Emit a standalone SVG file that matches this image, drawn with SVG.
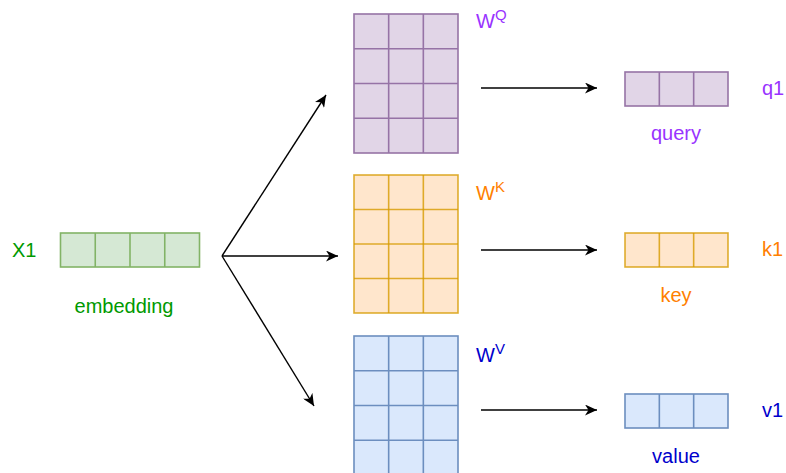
<svg xmlns="http://www.w3.org/2000/svg" width="786" height="473" viewBox="0 0 786 473">
<style>
text{font-family:"Liberation Sans",Arial,sans-serif;font-size:20px}
.p rect,.p line{fill:#e1d5e7;stroke:#9673a6;stroke-width:1.6}
.o rect,.o line{fill:#ffe6cc;stroke:#d79b00;stroke-width:1.6;stroke-opacity:.8}
.b rect,.b line{fill:#dae8fc;stroke:#6c8ebf;stroke-width:1.6}
.g rect,.g line{fill:#d5e8d4;stroke:#82b366;stroke-width:1.6}
.tp{fill:#9933ff}.to{fill:#ff8000}.tb{fill:#0000cc}.tg{fill:#009900}
.sup{font-size:15px}
.c line{stroke:#000;stroke-width:1.4;marker-end:url(#ah)}
</style>
<defs>
<marker id="ah" markerUnits="userSpaceOnUse" markerWidth="13" markerHeight="11" refX="12" refY="5.5" orient="auto">
<path d="M0,0 L12,5.5 L0,11 L3.5,5.5 Z" fill="#000"/>
</marker>
</defs>

<g id="embedding" class="g">
<rect x="60.5" y="233" width="139" height="34"/>
<line x1="95.25" y1="233" x2="95.25" y2="267"/>
<line x1="130" y1="233" x2="130" y2="267"/>
<line x1="164.75" y1="233" x2="164.75" y2="267"/>
<text x="12" y="257" class="tg">X1</text>
<text x="124" y="313" text-anchor="middle" class="tg">embedding</text>
</g>

<g id="WQ" class="p">
<rect x="354" y="14" width="104" height="139"/>
<line x1="388.67" y1="14" x2="388.67" y2="153"/>
<line x1="423.33" y1="14" x2="423.33" y2="153"/>
<line x1="354" y1="48.75" x2="458" y2="48.75"/>
<line x1="354" y1="83.5" x2="458" y2="83.5"/>
<line x1="354" y1="118.25" x2="458" y2="118.25"/>
<text x="476" y="28" class="tp">W<tspan class="sup" dy="-8">Q</tspan></text>
</g>

<g id="WK" class="o">
<rect x="354" y="175" width="104" height="138"/>
<line x1="388.67" y1="175" x2="388.67" y2="313"/>
<line x1="423.33" y1="175" x2="423.33" y2="313"/>
<line x1="354" y1="209.5" x2="458" y2="209.5"/>
<line x1="354" y1="244" x2="458" y2="244"/>
<line x1="354" y1="278.5" x2="458" y2="278.5"/>
<text x="476" y="200" class="to">W<tspan class="sup" dy="-8">K</tspan></text>
</g>

<g id="WV" class="b">
<rect x="354" y="336" width="104" height="139"/>
<line x1="388.67" y1="336" x2="388.67" y2="475"/>
<line x1="423.33" y1="336" x2="423.33" y2="475"/>
<line x1="354" y1="370.75" x2="458" y2="370.75"/>
<line x1="354" y1="405.5" x2="458" y2="405.5"/>
<line x1="354" y1="440.25" x2="458" y2="440.25"/>
<text x="476" y="362" class="tb">W<tspan class="sup" dy="-8">V</tspan></text>
</g>

<g id="q1" class="p">
<rect x="625" y="72" width="103" height="34"/>
<line x1="659.33" y1="72" x2="659.33" y2="106"/>
<line x1="693.67" y1="72" x2="693.67" y2="106"/>
<text x="762" y="95" class="tp">q1</text>
<text x="676" y="140" text-anchor="middle" class="tp">query</text>
</g>

<g id="k1" class="o">
<rect x="625" y="233" width="103" height="34"/>
<line x1="659.33" y1="233" x2="659.33" y2="267"/>
<line x1="693.67" y1="233" x2="693.67" y2="267"/>
<text x="762" y="256" class="to">k1</text>
<text x="676" y="302" text-anchor="middle" class="to">key</text>
</g>

<g id="v1" class="b">
<rect x="625" y="394" width="103" height="34"/>
<line x1="659.33" y1="394" x2="659.33" y2="428"/>
<line x1="693.67" y1="394" x2="693.67" y2="428"/>
<text x="762" y="417" class="tb">v1</text>
<text x="676" y="463" text-anchor="middle" class="tb">value</text>
</g>

<g id="connectors" class="c">
<line x1="222" y1="256" x2="326" y2="95"/>
<line x1="222" y1="256" x2="338" y2="256"/>
<line x1="222" y1="256" x2="314" y2="406"/>
<line x1="481" y1="88" x2="597" y2="88"/>
<line x1="481" y1="250" x2="597" y2="250"/>
<line x1="481" y1="410" x2="597" y2="410"/>
</g>
</svg>
